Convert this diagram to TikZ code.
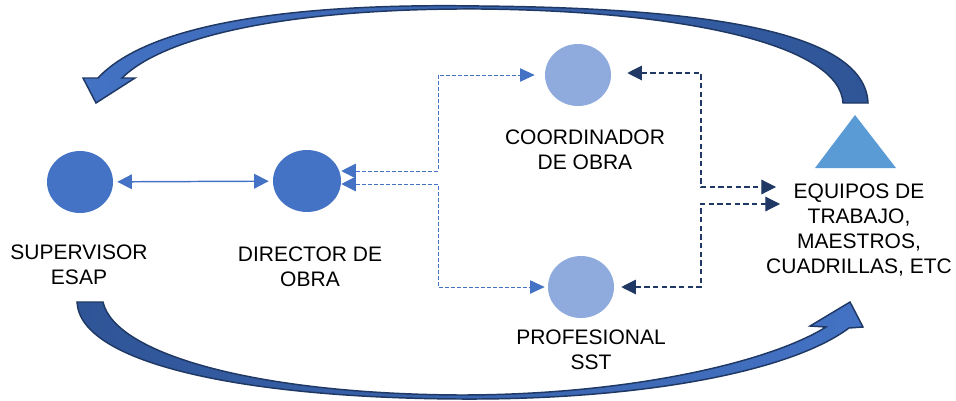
\documentclass[tikz,border=0pt]{standalone}
\usepackage{fontspec}
\setmainfont{Liberation Sans}
\usetikzlibrary{arrows.meta,shapes.geometric}
\definecolor{dotblue}{HTML}{4472C4}
\definecolor{paleblue}{HTML}{8FAADC}
\definecolor{teamblue}{HTML}{5B9BD5}
\definecolor{navyline}{HTML}{203864}
\definecolor{rimblue}{HTML}{1F3864}
\definecolor{tailblue}{HTML}{2F5597}

\begin{document}
\begin{tikzpicture}[x=0.75pt, y=-0.75pt,
    every node/.style = {align=center, font=\fontsize{15.75}{18.75}\selectfont},
    maindot/.style = {ellipse, fill=dotblue, inner sep=0pt, minimum width=49.5pt, minimum height=46.5pt},
    subdot/.style = {ellipse, fill=paleblue, inner sep=0pt, minimum width=49.5pt, minimum height=46.5pt},
    link/.style = {draw=dotblue, line width=1.1pt, {Triangle[length=11pt,width=11pt]}-{Triangle[length=11pt,width=11pt]}},
    bluedash/.style = {draw=dotblue, line width=0.75pt, dash pattern=on 3pt off 1.5pt, {Triangle[length=11pt,width=11pt]}-{Triangle[length=11pt,width=10pt]}},
    navydash/.style = {draw=navyline, line width=0.85pt, dash pattern=on 4pt off 2.5pt, {Triangle[length=11pt,width=11pt]}-{Triangle[length=11pt,width=11pt]}},
    bigarrow/.style = {draw=rimblue, line width=1.1pt, line join=miter}]
    \useasboundingbox (0,0) rectangle (956,400);

    \node[maindot] (sup) at (80,182) {};
    \node[maindot, minimum width=51pt] (dir) at (307,181) {};
    \node[subdot] (coo) at (578,75) {};
    \node[subdot] (sst) at (581,287) {};
    \fill[teamblue] (855,115) -- (896,168) -- (815,168) -- cycle;

    \node (supl) at (79,265) {SUPERVISOR\\ESAP};
    \node (dirl) at (310,267) {DIRECTOR DE\\OBRA};
    \node (cool) at (585,150) {COORDINADOR\\DE OBRA};
    \node (sstl) at (591,350) {PROFESIONAL\\SST};
    \node (eql) at (859,230) {EQUIPOS DE\\TRABAJO,\\MAESTROS,\\CUADRILLAS, ETC};

    \coordinate (busl) at (438,0);
    \coordinate (busr) at (701,0);
    \coordinate (eqin1) at (776,187);
    \coordinate (eqin2) at (780,204);

    \draw[link, shorten <=3pt, shorten >=3pt] (sup) -- (dir);
    \draw[bluedash] ([yshift=7.5pt]dir.east) -| (busl |- coo.west) -- ([xshift=-7.5pt]coo.west);
    \draw[bluedash] ([yshift=-2.25pt]dir.east) -| (busl |- sst.west) -- ([xshift=-2.25pt]sst.west);
    \draw[navydash] ([xshift=12pt, yshift=1.5pt]coo.east) -| (busr |- eqin1) -- (eqin1);
    \draw[navydash] ([xshift=5.25pt]sst.east) -| (busr |- eqin2) -- (eqin2);

    \path[bigarrow, left color=dotblue, right color=tailblue]
        (868,103) .. controls (865,30) and (700,8) .. (480,6)
        .. controls (300,3) and (150,22) .. (98,78)
        -- (83,78) -- (96,103) -- (135,78) -- (122,78)
        .. controls (170,31) and (310,8) .. (480,9)
        .. controls (690,11) and (840,46) .. (843,103) -- cycle;
    \path[bigarrow, left color=tailblue, right color=dotblue]
        (77,302) .. controls (80,365) and (250,398) .. (460,399)
        .. controls (640,400) and (790,372) .. (849,328)
        -- (863,327) -- (850,302) -- (810,326) -- (826,327)
        .. controls (770,362) and (630,395) .. (460,395)
        .. controls (260,394) and (115,355) .. (103,302) -- cycle;
\end{tikzpicture}
\end{document}
